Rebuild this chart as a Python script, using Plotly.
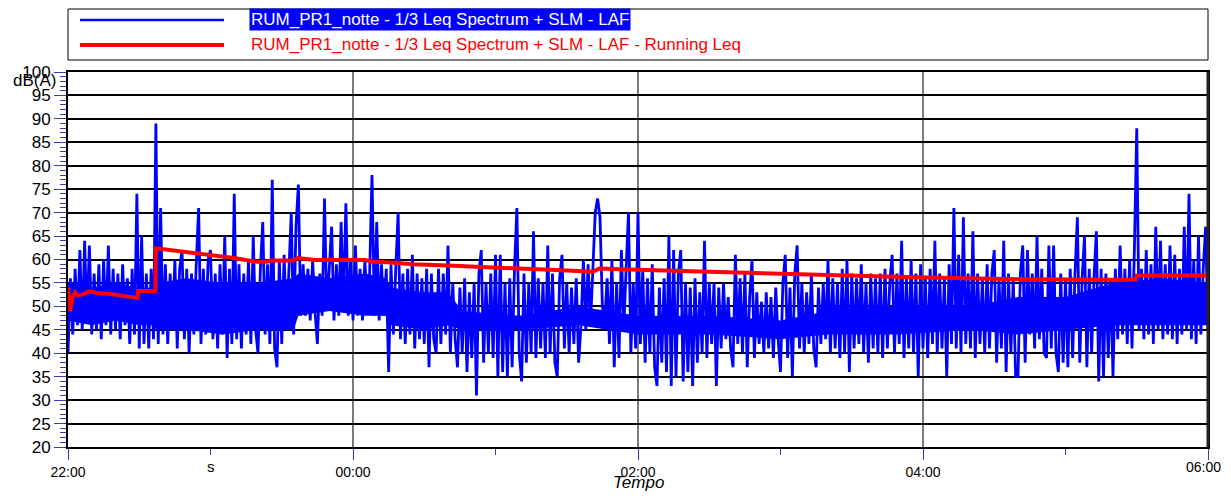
import pandas as pd
import plotly.graph_objects as go

# ---------------- data ----------------
START = "2024-01-01 22:00"
END = "2024-01-02 06:00"

# LAF level (dB(A)), one reading per minute from 22:00 to 06:00 (481 values)
laf_2200 = [40, 56, 44, 58, 46, 62, 45, 64, 47, 63, 44, 57, 45, 59, 43, 60, 46, 63, 44, 58,
            45, 57, 43, 59, 46, 56, 42, 58, 44, 74, 41, 65, 42, 57, 41, 58, 43, 89, 42, 71,
            44, 59, 42, 57, 45, 60, 41, 58, 62, 43, 58, 40, 57, 44, 59, 71, 42, 58, 44, 60]
laf_2300 = [62, 43, 57, 41, 59, 44, 65, 39, 58, 42, 74, 43, 59, 41, 57, 44, 60, 42, 65, 45,
            40, 58, 68, 44, 59, 42, 77, 41, 37, 60, 42, 61, 45, 58, 70, 44, 67, 76, 48, 59,
            48, 58, 47, 60, 49, 42, 57, 48, 73, 49, 58, 67, 47, 59, 48, 68, 49, 72, 48, 60]
laf_0000 = [47, 63, 48, 58, 47, 60, 49, 57, 78, 48, 68, 47, 59, 48, 58, 36, 59, 44, 58, 70,
            43, 57, 42, 58, 44, 61, 41, 57, 43, 56, 42, 58, 37, 57, 43, 40, 58, 42, 57, 44,
            63, 40, 55, 43, 37, 54, 40, 56, 36, 53, 39, 55, 31, 57, 62, 38, 55, 40, 57, 39]
laf_0100 = [61, 35, 61, 36, 55, 35, 56, 37, 58, 71, 40, 34, 57, 38, 55, 40, 66, 39, 56, 41,
            55, 39, 63, 40, 57, 38, 35, 56, 61, 41, 55, 40, 54, 42, 56, 38, 46, 60, 45, 59,
            46, 58, 70, 73, 69, 50, 47, 56, 42, 60, 37, 55, 39, 62, 45, 58, 70, 40, 55, 41]
laf_0200 = [70, 42, 58, 38, 56, 40, 59, 37, 33, 54, 38, 56, 36, 65, 33, 62, 35, 57, 62, 34,
            55, 36, 54, 33, 56, 38, 53, 40, 64, 39, 55, 42, 55, 33, 54, 41, 55, 43, 52, 41,
            37, 61, 42, 56, 40, 57, 37, 52, 60, 39, 53, 42, 51, 40, 53, 41, 52, 39, 54, 43]
laf_0300 = [36, 55, 61, 39, 54, 35, 57, 63, 41, 55, 40, 53, 42, 57, 41, 37, 54, 42, 55, 43,
            60, 40, 56, 41, 55, 39, 58, 40, 60, 36, 57, 41, 56, 42, 59, 40, 55, 38, 57, 41,
            56, 40, 57, 39, 58, 41, 55, 61, 40, 57, 42, 64, 39, 56, 41, 60, 40, 57, 35, 59]
laf_0400 = [41, 56, 39, 58, 42, 64, 40, 57, 41, 56, 35, 59, 42, 71, 41, 61, 40, 69, 42, 57,
            41, 66, 39, 57, 42, 56, 40, 59, 41, 57, 62, 38, 56, 41, 64, 36, 57, 40, 56, 35,
            35, 57, 63, 38, 62, 44, 57, 41, 65, 43, 58, 40, 39, 63, 41, 63, 40, 36, 57, 38]
laf_0500 = [56, 37, 58, 39, 57, 69, 38, 56, 65, 37, 58, 40, 56, 66, 34, 58, 35, 57, 39, 56,
            35, 58, 43, 63, 44, 58, 42, 60, 41, 62, 88, 45, 58, 43, 62, 44, 59, 42, 67, 45,
            64, 43, 59, 44, 63, 43, 61, 42, 58, 44, 67, 45, 74, 43, 60, 42, 65, 44, 58, 67,
            45]

# densely overlapping core of the LAF trace (where the fast readings fill solid)
core_minutes = [0, 10, 20, 30, 36, 37, 50, 65, 80, 95, 97, 110, 125, 134, 136, 150, 160,
                166, 190, 215, 240, 270, 300, 320, 350, 380, 400, 420, 440, 460, 480]
core_low = [47, 46, 47, 46, 46, 45, 45, 44, 45, 45, 48, 49, 48, 48, 46, 45, 46,
            45, 45, 46, 44, 44, 43, 44, 44, 45, 44, 45, 46, 46, 46]
core_high = [55, 54, 55, 54, 54, 55, 56, 55, 55, 56, 57, 56, 57, 56, 54, 53, 53,
             49, 48, 50, 48, 48, 47, 49, 50, 50, 52, 52, 55, 56, 55]

# Running Leq: minutes after 22:00 and level dB(A)
leq_minutes = [0, 0.5, 1, 2, 3, 4, 6, 9, 13, 17, 22, 26, 29.3, 29.5, 36.8, 37, 42, 47, 58,
               70, 79, 84, 85.5, 95, 96.7, 100, 104, 125, 128, 135, 140, 145, 160, 172,
               181, 196, 208, 221, 223.7, 240, 267, 280, 295, 320, 336, 357, 381, 400,
               443, 449.5, 450, 480]
leq_values = [54, 50, 49, 52, 53, 52.3, 52.5, 53.2, 52.8, 52.7, 52.3, 52.0, 51.8, 53.3,
              53.3, 62.4, 62.1, 61.7, 61.0, 60.3, 59.5, 59.5, 59.8, 59.8, 60.3, 60.2,
              59.9, 59.9, 59.5, 59.4, 59.1, 59.0, 58.7, 58.5, 58.2, 58.0, 57.7, 57.4,
              58.1, 57.8, 57.4, 57.2, 56.9, 56.7, 56.5, 56.2, 56.0, 55.8, 55.7, 55.7,
              56.6, 56.6]

y_ticks = list(range(20, 101, 5))
x_last_label = "06:00"

name_laf = "RUM_PR1_notte - 1/3 Leq Spectrum + SLM - LAF"
name_leq = "RUM_PR1_notte - 1/3 Leq Spectrum + SLM - LAF - Running Leq"

# ---------------- build ----------------
laf = laf_2200 + laf_2300 + laf_0000 + laf_0100 + laf_0200 + laf_0300 + laf_0400 + laf_0500
t0 = pd.Timestamp(START)
laf_t = pd.date_range(START, periods=len(laf), freq="min")
leq_t = [t0 + pd.Timedelta(minutes=m) for m in leq_minutes]
core_t = [t0 + pd.Timedelta(minutes=m) for m in core_minutes]

# the page body keeps its 8px margin; the figure fills the rest of the window
OFF = 8
W, H = 1231 - 2 * OFF, 499 - 2 * OFF
PL, PR, PT, PB = 68, 1208, 72, 447          # plot area in window pixels
L, T = PL - OFF, PT - OFF
R, B = W - (PR - OFF), H - (PB - OFF)
PW, PH = PR - PL, PB - PT


def px(xp):
    return (xp - PL) / PW


def py(yp):
    return (PB - yp) / PH


fig = go.Figure()
fig.add_trace(go.Scatter(x=core_t + core_t[::-1], y=core_high + core_low[::-1],
                         mode="lines", fill="toself", fillcolor="#0000ff",
                         line=dict(width=0), hoverinfo="skip", showlegend=False))
fig.add_trace(go.Scatter(x=laf_t, y=laf, mode="lines", name=name_laf,
                         line=dict(color="#0000ff", width=2.8), showlegend=False))
fig.add_trace(go.Scatter(x=leq_t, y=leq_values, mode="lines", name=name_leq,
                         line=dict(color="#ff0000", width=4), showlegend=False))

tick_col = "#3a3ab0"
fig.update_layout(
    width=W, height=H,
    margin=dict(l=L, r=R, t=T, b=B, pad=0),
    paper_bgcolor="white", plot_bgcolor="white",
    font=dict(family="Liberation Sans, Arial, sans-serif", color="black"),
    xaxis=dict(
        type="date", range=[START, END],
        tick0=START, dtick=2 * 3600000, tickformat="%H:%M",
        ticks="outside", ticklen=11, tickcolor=tick_col, tickwidth=1,
        tickfont=dict(size=14),
        showgrid=True, gridcolor="#7a7a7a", gridwidth=1.5,
        showline=True, linecolor="black", linewidth=2, mirror=True,
        zeroline=False,
        minor=dict(dtick=3600000, ticks="outside", ticklen=6, tickcolor=tick_col,
                   showgrid=False),
    ),
    yaxis=dict(
        range=[20, 100], tickvals=y_ticks,
        ticks="outside", ticklen=12, tickcolor=tick_col, tickwidth=1,
        tickfont=dict(size=17),
        showgrid=True, gridcolor="black", gridwidth=2,
        showline=True, linecolor="black", linewidth=2, mirror=True,
        zeroline=False,
        minor=dict(dtick=1, ticks="outside", ticklen=6, tickcolor=tick_col,
                   showgrid=False),
    ),
)

shapes = [
    # legend box
    dict(type="rect", xref="paper", yref="paper", x0=px(68), x1=px(1208), y0=py(60), y1=py(9),
         line=dict(color="black", width=1), fillcolor="white"),
    dict(type="line", xref="paper", yref="paper", x0=px(80), x1=px(224), y0=py(20), y1=py(20),
         line=dict(color="#0000ff", width=2.5)),
    dict(type="line", xref="paper", yref="paper", x0=px(80), x1=px(224), y0=py(45), y1=py(45),
         line=dict(color="#ff0000", width=4)),
    # thicker right border
    dict(type="line", xref="paper", yref="paper", x0=1, x1=1, y0=0, y1=1,
         line=dict(color="#222222", width=3)),
]
fig.update_layout(shapes=shapes)

ann = [
    dict(text=name_laf, x=px(249), y=py(20), xref="paper", yref="paper", xanchor="left",
         yanchor="middle", showarrow=False, bgcolor="#0000ff", borderpad=1,
         font=dict(size=17, color="white")),
    dict(text=name_leq, x=px(249), y=py(45), xref="paper", yref="paper", xanchor="left",
         yanchor="middle", showarrow=False, font=dict(size=17, color="#ff0000")),
    dict(text="dB(A)", x=px(58), y=py(80), xref="paper", yref="paper", xanchor="right",
         yanchor="middle", showarrow=False, font=dict(size=17, color="black")),
    dict(text="s", x=t0 + pd.Timedelta(hours=1), y=py(466), xref="x", yref="paper",
         xanchor="center", yanchor="middle", showarrow=False,
         font=dict(size=15, color="black")),
    # last time label, kept inside the page so it is not hidden at the edge
    dict(text=x_last_label, x=px(1222), y=py(467), xref="paper", yref="paper",
         xanchor="right", yanchor="middle", showarrow=False, borderpad=0,
         font=dict(size=14, color="black")),
    dict(text="<i>Tempo</i>", x=t0 + pd.Timedelta(hours=4), y=py(482), xref="x", yref="paper",
         xanchor="center", yanchor="middle", showarrow=False, borderpad=0,
         font=dict(size=17, color="black")),
]
fig.update_layout(annotations=ann)

fig.write_html("out.html", config={"displayModeBar": False})
